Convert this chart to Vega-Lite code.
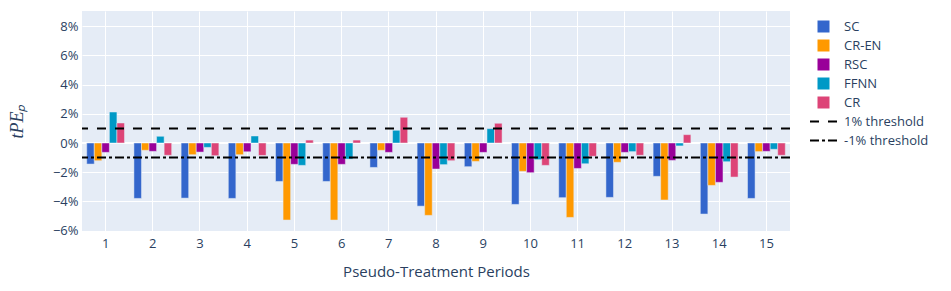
{
  "$schema": "https://vega.github.io/schema/vega-lite/v6.json",
  "width": 708,
  "height": 220,
  "autosize": {"type": "none"},
  "padding": {"left": 82, "top": 11, "right": 161, "bottom": 60},
  "background": "white",
  "config": {
    "view": {"fill": "#E5ECF6", "stroke": null},
    "font": "Open Sans",
    "axis": {
      "labelColor": "#2a3f5f",
      "titleColor": "#2a3f5f",
      "gridColor": "white",
      "gridWidth": 1,
      "domain": false,
      "ticks": false,
      "labelFontSize": 13,
      "labelOverlap": false,
      "titleFontWeight": "normal"
    },
    "axisY": {"labelOverlap": false},
    "legend": {"labelColor": "#2a3f5f", "labelFontSize": 13, "title": null}
  },
  "datasets": {
    "bars": [
      {"period": "1", "series": "SC", "value": -0.0144},
      {"period": "1", "series": "CR-EN", "value": -0.0121},
      {"period": "1", "series": "RSC", "value": -0.0064},
      {"period": "1", "series": "FFNN", "value": 0.0212},
      {"period": "1", "series": "CR", "value": 0.0137},
      {"period": "2", "series": "SC", "value": -0.0379},
      {"period": "2", "series": "CR-EN", "value": -0.0050},
      {"period": "2", "series": "RSC", "value": -0.0057},
      {"period": "2", "series": "FFNN", "value": 0.0046},
      {"period": "2", "series": "CR", "value": -0.0084},
      {"period": "3", "series": "SC", "value": -0.0377},
      {"period": "3", "series": "CR-EN", "value": -0.0080},
      {"period": "3", "series": "RSC", "value": -0.0062},
      {"period": "3", "series": "FFNN", "value": -0.0030},
      {"period": "3", "series": "CR", "value": -0.0087},
      {"period": "4", "series": "SC", "value": -0.0379},
      {"period": "4", "series": "CR-EN", "value": -0.0080},
      {"period": "4", "series": "RSC", "value": -0.0060},
      {"period": "4", "series": "FFNN", "value": 0.0048},
      {"period": "4", "series": "CR", "value": -0.0085},
      {"period": "5", "series": "SC", "value": -0.0263},
      {"period": "5", "series": "CR-EN", "value": -0.0527},
      {"period": "5", "series": "RSC", "value": -0.0146},
      {"period": "5", "series": "FFNN", "value": -0.0153},
      {"period": "5", "series": "CR", "value": 0.0020},
      {"period": "6", "series": "SC", "value": -0.0263},
      {"period": "6", "series": "CR-EN", "value": -0.0527},
      {"period": "6", "series": "RSC", "value": -0.0146},
      {"period": "6", "series": "FFNN", "value": -0.0110},
      {"period": "6", "series": "CR", "value": 0.0020},
      {"period": "7", "series": "SC", "value": -0.0167},
      {"period": "7", "series": "CR-EN", "value": -0.0050},
      {"period": "7", "series": "RSC", "value": -0.0064},
      {"period": "7", "series": "FFNN", "value": 0.0087},
      {"period": "7", "series": "CR", "value": 0.0176},
      {"period": "8", "series": "SC", "value": -0.0432},
      {"period": "8", "series": "CR-EN", "value": -0.0495},
      {"period": "8", "series": "RSC", "value": -0.0178},
      {"period": "8", "series": "FFNN", "value": -0.0148},
      {"period": "8", "series": "CR", "value": -0.0121},
      {"period": "9", "series": "SC", "value": -0.0162},
      {"period": "9", "series": "CR-EN", "value": -0.0126},
      {"period": "9", "series": "RSC", "value": -0.0064},
      {"period": "9", "series": "FFNN", "value": 0.0098},
      {"period": "9", "series": "CR", "value": 0.0135},
      {"period": "10", "series": "SC", "value": -0.0420},
      {"period": "10", "series": "CR-EN", "value": -0.0194},
      {"period": "10", "series": "RSC", "value": -0.0203},
      {"period": "10", "series": "FFNN", "value": -0.0114},
      {"period": "10", "series": "CR", "value": -0.0153},
      {"period": "11", "series": "SC", "value": -0.0374},
      {"period": "11", "series": "CR-EN", "value": -0.0509},
      {"period": "11", "series": "RSC", "value": -0.0174},
      {"period": "11", "series": "FFNN", "value": -0.0142},
      {"period": "11", "series": "CR", "value": -0.0091},
      {"period": "12", "series": "SC", "value": -0.0372},
      {"period": "12", "series": "CR-EN", "value": -0.0132},
      {"period": "12", "series": "RSC", "value": -0.0064},
      {"period": "12", "series": "FFNN", "value": -0.0059},
      {"period": "12", "series": "CR", "value": -0.0084},
      {"period": "13", "series": "SC", "value": -0.0228},
      {"period": "13", "series": "CR-EN", "value": -0.0390},
      {"period": "13", "series": "RSC", "value": -0.0119},
      {"period": "13", "series": "FFNN", "value": -0.0020},
      {"period": "13", "series": "CR", "value": 0.0057},
      {"period": "14", "series": "SC", "value": -0.0486},
      {"period": "14", "series": "CR-EN", "value": -0.0290},
      {"period": "14", "series": "RSC", "value": -0.0269},
      {"period": "14", "series": "FFNN", "value": -0.0128},
      {"period": "14", "series": "CR", "value": -0.0233},
      {"period": "15", "series": "SC", "value": -0.0379},
      {"period": "15", "series": "CR-EN", "value": -0.0059},
      {"period": "15", "series": "RSC", "value": -0.0057},
      {"period": "15", "series": "FFNN", "value": -0.0043},
      {"period": "15", "series": "CR", "value": -0.0084}
    ],
    "thresholds": [
      {"series": "1% threshold", "value": 0.01},
      {"series": "-1% threshold", "value": -0.01}
    ],
    "zero": [{"value": 0}]
  },
  "encoding": {
    "y": {
      "field": "value",
      "type": "quantitative",
      "scale": {"domain": [-0.0602, 0.0903], "nice": false, "zero": false},
      "axis": {
        "values": [-0.06, -0.04, -0.02, 0, 0.02, 0.04, 0.06, 0.08],
        "format": ".0%",
        "labelOverlap": false,
        "labelPadding": 4,
        "title": "tPEₚ",
        "titleFont": "Liberation Serif",
        "titleFontStyle": "italic",
        "titleFontSize": 18,
        "titlePadding": 26
      }
    }
  },
  "layer": [
    {
      "data": {"name": "zero"},
      "mark": {"type": "rule", "color": "white", "strokeWidth": 2},
      "encoding": {}
    },
    {
      "data": {"name": "bars"},
      "mark": {"type": "bar", "stroke": "#E5ECF6", "strokeWidth": 0.5},
      "encoding": {
        "x": {
          "field": "period",
          "type": "ordinal",
          "sort": null,
          "scale": {"type": "band", "paddingInner": 0.2, "paddingOuter": 0.1},
          "axis": {
            "title": "Pseudo-Treatment Periods",
            "titleFontSize": 15,
            "titlePadding": 14,
            "labelAngle": 0,
            "labelPadding": 6,
            "bandPosition": 0.5,
            "grid": true
          }
        },
        "xOffset": {
          "field": "series",
          "type": "nominal",
          "sort": ["SC", "CR-EN", "RSC", "FFNN", "CR"],
          "scale": {"paddingInner": 0, "paddingOuter": 0}
        },
        "color": {
          "field": "series",
          "type": "nominal",
          "scale": {
            "domain": ["SC", "CR-EN", "RSC", "FFNN", "CR", "1% threshold", "-1% threshold"],
            "range": ["#3366CC", "#FF9900", "#990099", "#0099C6", "#DD4477", "black", "black"]
          },
          "legend": {
            "symbolType": {"expr": "datum.value === '1% threshold' || datum.value === '-1% threshold' ? 'M-2.25,0H2.25' : 'square'"},
            "symbolSize": 144,
            "symbolStrokeColor": {"expr": "datum.value === '1% threshold' || datum.value === '-1% threshold' ? 'black' : 'transparent'"},
            "symbolStrokeWidth": {"expr": "datum.value === '1% threshold' || datum.value === '-1% threshold' ? 2 : 0"},
            "symbolDash": {"expr": "datum.value === '1% threshold' ? [9, 9] : datum.value === '-1% threshold' ? [9, 3, 3, 3] : [1, 0]"},
            "rowPadding": 5,
            "labelOffset": 14,
            "offset": 18,
            "padding": 9
          }
        }
      }
    },
    {
      "data": {"name": "thresholds"},
      "mark": {"type": "rule", "color": "black", "strokeWidth": 2},
      "encoding": {
        "strokeDash": {
          "field": "series",
          "type": "nominal",
          "scale": {
            "domain": ["1% threshold", "-1% threshold"],
            "range": [[9, 9], [9, 3, 3, 3]]
          },
          "legend": null
        }
      }
    }
  ]
}
